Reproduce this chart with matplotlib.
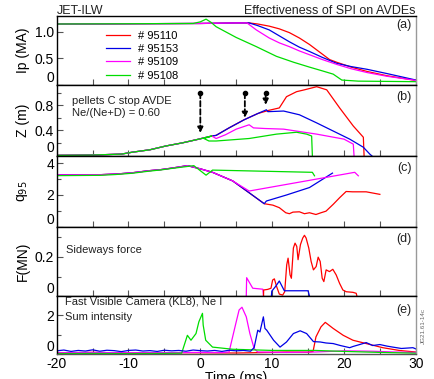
import numpy as np
import matplotlib
matplotlib.use("Agg")
import matplotlib.pyplot as plt
from matplotlib.ticker import FuncFormatter

plt.rcParams['font.family'] = ['Liberation Sans', 'DejaVu Sans']

# Colours / shots
shots = ['# 95110', '# 95153', '# 95109', '# 95108']
colors = ['#ff0000', '#0000e6', '#ff00ff', '#00dd00']

# (a) plasma current Ip (MA)
ip_t_red = [-20, -10, 0, 5, 6.8, 8, 9.6, 11, 12.4, 13.8, 15.2, 16.6, 18, 19, 21, 23.2, 26, 29.7, 30]
ip_red = [1.14, 1.145, 1.15, 1.16, 1.16, 1.14, 1.10, 1.05, 0.98, 0.88, 0.76, 0.62, 0.48, 0.43, 0.34, 0.26, 0.18, 0.10, 0.10]
ip_t_blue = [-20, -10, 0, 5, 6.8, 8, 9.6, 11, 12.4, 13.8, 15.2, 17, 19, 21, 23.2, 26, 29.7, 30]
ip_blue = [1.14, 1.145, 1.15, 1.16, 1.16, 1.11, 1.03, 0.92, 0.81, 0.71, 0.63, 0.52, 0.41, 0.35, 0.30, 0.22, 0.11, 0.10]
ip_t_mag = [-20, -10, 0, 5, 6.5, 7.8, 9.6, 11, 12.4, 13.8, 15.2, 17, 19, 21, 23.2, 26, 29.7, 30]
ip_mag = [1.14, 1.145, 1.15, 1.16, 1.16, 1.03, 0.88, 0.79, 0.72, 0.64, 0.57, 0.48, 0.39, 0.31, 0.24, 0.17, 0.10, 0.09]
ip_t_green = [-20, -10, -1, 0, 0.8, 1.5, 2.2, 5, 7.8, 10.6, 13, 15.2, 17, 18.5, 19.7, 22, 30]
ip_green = [1.14, 1.145, 1.15, 1.18, 1.23, 1.17, 1.09, 0.89, 0.72, 0.54, 0.43, 0.34, 0.27, 0.21, 0.10, 0.08, 0.07]

# (b) vertical position Z (m)
z_t_common = [-20, -15, -11, -9.5, -7, -4.8, -2.5, -0.2, 1.6]
z_common = [0.0, 0.005, 0.02, 0.05, 0.09, 0.15, 0.20, 0.26, 0.31]
z_t_red = [2.2, 4, 6.1, 8, 9.5, 11, 12, 13.4, 14.5, 16.2, 17.6, 19.4, 21.3, 22.7, 22.8]
z_red = [0.32, 0.44, 0.57, 0.67, 0.72, 0.76, 0.94, 1.02, 1.05, 1.10, 1.05, 0.76, 0.47, 0.29, 0.0]
z_t_blue = [2.2, 4, 6.1, 8, 9.2, 9.4, 11.6, 13.8, 16.2, 18.5, 20.8, 22.7, 23.6, 24.0]
z_blue = [0.32, 0.44, 0.57, 0.67, 0.73, 0.70, 0.71, 0.65, 0.52, 0.39, 0.26, 0.13, 0.02, -0.02]
z_t_mag = [2.2, 3.5, 5, 6.8, 7.4, 9, 11.6, 16.2, 20, 21.3, 21.4]
z_mag = [0.27, 0.33, 0.42, 0.49, 0.44, 0.43, 0.42, 0.34, 0.26, 0.18, 0.0]
z_t_green = [0.5, 1.2, 2.2, 6.8, 10.6, 13.4, 14.8, 15.5, 15.6]
z_green = [0.27, 0.23, 0.23, 0.27, 0.34, 0.37, 0.34, 0.31, 0.0]

# pellet arrival times and arrow tips
pellet_t = [0.0, 6.2, 9.1]
pellet_tip = [0.36, 0.60, 0.81]
pellet_top = 1.0

# (c) safety factor q95
q_t_common = [-20, -14, -11.8, -9.5, -7.2, -5.5, -3.9, -1.8, 0, 1.7, 4.5]
q_common = [3.27, 3.28, 3.32, 3.40, 3.53, 3.60, 3.70, 3.85, 3.65, 3.43, 2.89]
q_t_red = [6.8, 8.9, 10.1, 11.0, 11.9, 12.4, 12.9, 13.8, 14.5, 15.2, 16.1, 16.8, 17.5, 18.5, 19.4, 20.3, 21.2, 23.1, 25.0]
q_red = [2.14, 1.45, 1.36, 1.20, 0.88, 0.82, 0.92, 0.94, 0.82, 0.88, 0.77, 0.88, 0.98, 1.41, 1.83, 2.22, 2.20, 2.20, 2.04]
q_t_blue = [6.8, 8.9, 9.2, 12, 15.2, 18.4]
q_blue = [2.14, 1.45, 1.62, 2.0, 2.47, 3.38]
q_t_mag = [6.8, 21.5, 22]
q_mag = [2.25, 3.43, 3.21]
q_t_green = [-20, -14, -11.8, -9.5, -7.2, -5.5, -3.9, -0.9, 0.8, 1.7, 15.6, 15.9]
q_green = [3.22, 3.24, 3.29, 3.37, 3.50, 3.58, 3.68, 3.85, 3.25, 3.57, 3.43, 3.21]

# (d) sideways force F (MN)
f_t_mag = [6.4, 6.45, 7.3, 8.7, 8.8]
f_mag = [0.0, 0.094, 0.04, 0.035, 0.0]
f_t_red = [8.8, 8.82, 9.38, 9.84, 10.07, 10.31, 10.63, 11.0, 11.47, 11.75, 12.03, 12.22, 12.5, 12.68, 12.96,
           13.19, 13.43, 13.61, 13.94, 14.26, 14.5, 14.73, 15.1, 15.43, 15.75, 16.13, 16.41, 16.69, 16.97,
           17.2, 17.52, 17.99, 18.45, 18.92, 19.39, 19.85, 20.32, 21.25, 21.71, 21.8]
f_red = [0.0, 0.031, 0.034, 0.04, 0.082, 0.088, 0.048, 0.01, 0.005, 0.022, 0.16, 0.194, 0.108, 0.091, 0.246,
         0.271, 0.254, 0.186, 0.263, 0.297, 0.311, 0.297, 0.246, 0.177, 0.134, 0.151, 0.199, 0.177, 0.091,
         0.074, 0.134, 0.125, 0.137, 0.108, 0.065, 0.031, 0.022, 0.019, 0.014, 0.0]
f_t_blue = [9.9, 9.95, 10.5, 11.0, 11.7, 13, 15.0, 15.2]
f_blue = [0.0, 0.025, 0.05, 0.077, 0.027, 0.027, 0.027, 0.0]

# (e) fast visible camera, Ne I sum intensity
e_t_blue = [-20, -19, -18, -17, -16, -15, -14, -13, -12, -11, -10, -9, -8, -7, -6, -5, -4, -3, -2, -1,
            0, 1, 2, 3, 4, 5, 6, 7, 7.5, 8.0, 8.3, 8.78, 9.0, 9.25, 10.2, 11.1, 12.0, 12.96, 13.9, 14.8,
            15.75, 16.7, 17.5, 18.5, 19.5, 20.8, 21.25, 22, 23.1, 24, 25, 26, 26.8, 28, 29.6, 30]
e_blue = [0.18, 0.22, 0.15, 0.20, 0.17, 0.23, 0.16, 0.21, 0.19, 0.14, 0.20, 0.22, 0.17, 0.19, 0.15, 0.21,
          0.18, 0.20, 0.16, 0.22, 0.19, 0.17, 0.20, 0.15, 0.21, 0.18, 0.20, 0.16, 0.35, 1.23, 1.14, 1.91,
          1.32, 1.23, 0.72, 0.37, 0.63, 1.06, 1.20, 1.06, 0.65, 0.63, 0.58, 0.55, 0.45, 0.34, 0.40, 0.48,
          0.60, 0.45, 0.50, 0.42, 0.37, 0.30, 0.34, 0.28]
e_t_red = [-20, -15, -10, -5, 0, 5, 10, 12, 15, 15.7, 16.1, 16.8, 17.4, 18.5, 19.9, 21.25, 23.1, 25.4, 27.7, 30]
e_red = [0.08, 0.10, 0.07, 0.09, 0.08, 0.07, 0.10, 0.12, 0.11, 0.15, 0.89, 1.40, 1.63, 1.32, 0.97, 0.72,
         0.55, 0.34, 0.20, 0.12]
e_t_mag = [-20, -15, -10, -5, 0, 3, 4, 4.5, 5.0, 5.4, 5.8, 6.4, 6.9, 7.5, 8, 12, 16, 20, 24, 27, 30]
e_mag = [0.08, 0.10, 0.08, 0.09, 0.10, 0.09, 0.12, 0.89, 1.66, 2.26, 2.40, 1.91, 1.06, 0.29, 0.12, 0.10,
         0.12, 0.18, 0.16, 0.12, 0.10]
e_t_green = [-20, -15, -10, -5, -2.6, -1.8, -1.3, -0.6, -0.2, 0.3, 0.4, 0.75, 1.7, 4.5, 10, 16, 20, 25, 30]
e_green = [0.04, 0.05, 0.04, 0.05, 0.06, 0.97, 0.72, 1.06, 1.66, 2.09, 1.49, 0.72, 0.37, 0.26, 0.20, 0.20,
           0.15, 0.10, 0.06]

fig = plt.figure(figsize=(4.34, 3.79), dpi=100)
gs = fig.add_gridspec(5, 1, left=0.1306, right=0.958, top=0.958, bottom=0.065,
                      hspace=0, height_ratios=[69.5, 70.5, 70.7, 69.3, 58.3])
axes = [fig.add_subplot(gs[0])]
for i in range(1, 5):
    axes.append(fig.add_subplot(gs[i], sharex=axes[0]))
ax_a, ax_b, ax_c, ax_d, ax_e = axes
lw = 0.9

# (a)
for t, y, c, lab in zip([ip_t_red, ip_t_blue, ip_t_mag, ip_t_green],
                        [ip_red, ip_blue, ip_mag, ip_green], colors, shots):
    ax_a.plot(t, y, color=c, lw=lw, label=lab)
ax_a.set_ylim(0, 1.29)
ax_a.set_yticks([0, 0.5, 1.0], ['0', '0.5', '1.0'])
ax_a.set_ylabel('Ip (MA)')
ax_a.legend(loc='upper left', bbox_to_anchor=(0.138, 0.79), frameon=False, fontsize=8,
            handlelength=2.1, handletextpad=0.75, labelspacing=0.3, borderpad=0, borderaxespad=0)

# (b)
for t, y, c in zip([z_t_red, z_t_blue, z_t_mag, z_t_green],
                   [z_red, z_blue, z_mag, z_green], colors):
    ax_b.plot(z_t_common + t, z_common + y, color=c, lw=lw)
for pt, tip in zip(pellet_t, pellet_tip):
    ax_b.annotate('', xy=(pt, tip), xytext=(pt, pellet_top),
                  arrowprops=dict(arrowstyle='-|>', linestyle=(0, (3, 1.5)), color='black',
                                  lw=1.3, mutation_scale=8, shrinkA=0, shrinkB=0))
    ax_b.plot([pt], [pellet_top], 'o', color='black', ms=3)
ax_b.set_ylim(-0.01, 1.12)
ax_b.set_yticks([0, 0.4, 0.8], ['0', '0.4', '0.8'])
ax_b.set_yticks([0.2, 0.6, 1.0], minor=True)
ax_b.set_ylabel('Z (m)')
ax_b.text(0.043, 0.70, 'pellets C stop AVDE\nNe/(Ne+D) = 0.60', transform=ax_b.transAxes,
          fontsize=8, va='center', ha='left', linespacing=1.25, color='#222222')

# (c)
for t, y, c in zip([q_t_red, q_t_blue, q_t_mag], [q_red, q_blue, q_mag], colors[:3]):
    ax_c.plot(q_t_common + t, q_common + y, color=c, lw=lw)
ax_c.plot(q_t_green, q_green, color=colors[3], lw=lw)
ax_c.set_ylim(0, 4.46)
ax_c.set_yticks([0, 2, 4], ['0', '2', '4'])
ax_c.set_yticks([1, 3], minor=True)
ax_c.set_ylabel('q$_{95}$')

# (d)
ax_d.plot(f_t_mag, f_mag, color=colors[2], lw=lw)
ax_d.plot(f_t_red, f_red, color=colors[0], lw=lw)
ax_d.plot(f_t_blue, f_blue, color=colors[1], lw=lw)
ax_d.set_ylim(0, 0.355)
ax_d.set_yticks([0, 0.2], ['0', '0.2'])
ax_d.set_yticks([0.1, 0.3], minor=True)
ax_d.set_ylabel('F(MN)')
ax_d.text(0.025, 0.67, 'Sideways force', transform=ax_d.transAxes, fontsize=8,
          va='center', ha='left', color='#222222')

# (e)
ax_e.plot(e_t_red, e_red, color=colors[0], lw=lw)
ax_e.plot(e_t_mag, e_mag, color=colors[2], lw=lw)
ax_e.plot(e_t_green, e_green, color=colors[3], lw=lw)
ax_e.plot(e_t_blue, e_blue, color=colors[1], lw=lw)
ax_e.set_ylim(0, 2.97)
ax_e.set_yticks([0, 2], ['0', '2'])
ax_e.set_yticks([1], minor=True)
ax_e.text(0.022, 0.77, 'Fast Visible Camera (KL8), Ne I\nSum intensity', transform=ax_e.transAxes,
          fontsize=8, va='center', ha='left', linespacing=1.55, color='#222222')
ax_e.set_xlabel('Time (ms)', fontsize=10, labelpad=0)

panel_labels = ['(a)', '(b)', '(c)', '(d)', '(e)']
label_off = [-9, -12, -12, -12, -14]
for ax, lab, off in zip(axes, panel_labels, label_off):
    ax.annotate(lab, xy=(1, 1), xycoords='axes fraction', xytext=(-4, off),
                textcoords='offset pixels', ha='right', va='center', fontsize=9, color='#222222')
    ax.set_xlim(-20, 30)
    ax.set_xticks(np.arange(-20, 31, 5))
    ax.xaxis.set_major_formatter(FuncFormatter(lambda v, p: f'{v:.0f}' if v % 10 == 0 else ''))
    ax.tick_params(which='major', direction='in', length=4, width=0.8, color='#555555',
                   labelsize=10, pad=2, top=False, right=False)
    ax.tick_params(which='minor', direction='in', length=3, width=0.8, color='#555555',
                   top=False, right=False)
    ax.tick_params(axis='x', labelbottom=(ax is ax_e))
    ax.yaxis.set_label_coords(-0.075, 0.5)
    ax.yaxis.label.set_size(10)
    for s in ['top', 'bottom', 'left']:
        ax.spines[s].set_linewidth(1.0)
    ax.spines['right'].set_color('#999999')
    ax.spines['right'].set_linewidth(1.0)
    # zero label sits above the bottom edge
    ax.yaxis.get_majorticklabels()[0].set_verticalalignment('bottom')

ax_e.spines['bottom'].set_color('#555555')

fig.text(0.1306, 0.972, 'JET-ILW', fontsize=9, ha='left', va='center', color='#222222')
fig.text(0.958, 0.972, 'Effectiveness of SPI on AVDEs', fontsize=9, ha='right', va='center',
         color='#222222')
fig.text(0.976, 0.14, 'JG21.61-14c', fontsize=4.5, rotation=90, ha='center', va='center',
         color='#666666')

fig.savefig('out.png', dpi=100)
plt.close(fig)
